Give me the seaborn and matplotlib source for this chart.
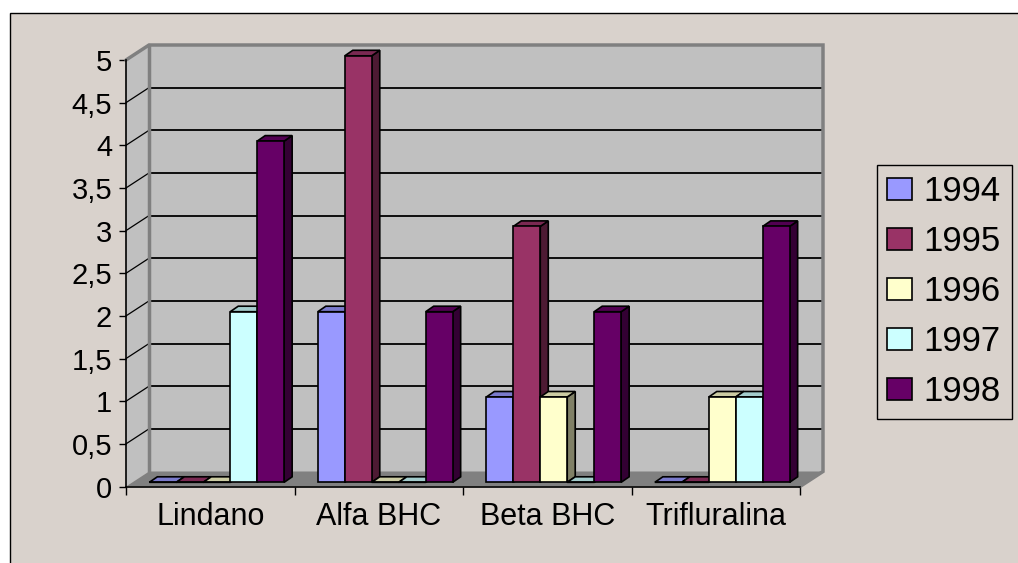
import numpy as np
import pandas as pd
import matplotlib
matplotlib.use("Agg")
import matplotlib.pyplot as plt
from matplotlib.patches import Polygon, Rectangle, Patch
from matplotlib.colors import to_rgb
import seaborn as sns

# ---------------- data ----------------
categories = ["Lindano", "Alfa BHC", "Beta BHC", "Trifluralina"]
years = ["1994", "1995", "1996", "1997", "1998"]
v1994 = [0, 2, 1, 0]
v1995 = [0, 5, 3, 0]
v1996 = [0, 0, 1, 1]
v1997 = [2, 0, 0, 1]
v1998 = [4, 2, 2, 3]
year_colors = ["#9999FF", "#993366", "#FFFFCC", "#CCFFFF", "#660066"]
yticks = [0, 0.5, 1, 1.5, 2, 2.5, 3, 3.5, 4, 4.5, 5]
ytick_labels = ["0", "0,5", "1", "1,5", "2", "2,5", "3", "3,5", "4", "4,5", "5"]

series = [v1994, v1995, v1996, v1997, v1998]
df = pd.DataFrame({
    "category": [c for s in series for c in categories],
    "year": [y for y, s in zip(years, series) for _ in s],
    "value": [v for s in series for v in s],
})

# ---------------- style ----------------
sns.set_style("white")
plt.rcParams["font.family"] = ["Liberation Sans", "DejaVu Sans"]
plt.rcParams["text.color"] = "black"
plt.rcParams["xtick.color"] = "black"
plt.rcParams["ytick.color"] = "black"
plt.rcParams["axes.labelcolor"] = "black"

BG = "#D9D2CC"
WALL = "#C0C0C0"
FLOOR = "#808080"
EDGE_GRAY = "#808080"

W, H = 1018, 563
fig = plt.figure(figsize=(W / 100, H / 100), dpi=100, facecolor="white")
fig.add_artist(Rectangle((9.5 / W, -0.05), 1.2, (H - 12.5) / H + 0.05,
                         transform=fig.transFigure, facecolor=BG,
                         edgecolor="black", linewidth=1.0, zorder=-10))

left_px, right_px, y0_px, y5_px = 126, 800, 486.5, 60
ax = fig.add_axes([left_px / W, (H - y0_px) / H,
                   (right_px - left_px) / W, (y0_px - y5_px) / H])
ax.patch.set_visible(False)

sns.barplot(data=df, x="category", y="value", hue="year", order=categories,
            hue_order=years, palette=year_colors, saturation=1, width=0.8,
            gap=0, edgecolor="black", linewidth=1.2, legend=False,
            errorbar=None, ax=ax)

ax.set_xlim(-0.5, 3.5)
ax.set_ylim(0, 5)

# pixel -> data conversion
PX_X = 4 / (right_px - left_px)
PX_Y = 5 / (y0_px - y5_px)
DX, DY = 23 * PX_X, 15 * PX_Y      # depth of the chart box
OX, OY = 6.5 * PX_X, 4.2 * PX_Y    # bar front offset within depth
BX, BY = 8 * PX_X, 5.5 * PX_Y      # bar depth

x0, x1 = -0.5, 3.5
# walls and floor
ax.add_patch(Polygon([(x0, 0), (x0, 5), (x0 + DX, 5 + DY), (x0 + DX, DY)],
                     closed=True, facecolor=WALL, edgecolor="none",
                     clip_on=False, zorder=0.5))
ax.add_patch(Polygon([(x0 + DX, DY), (x1 + DX, DY), (x1 + DX, 5 + DY), (x0 + DX, 5 + DY)],
                     closed=True, facecolor=WALL, edgecolor="none",
                     clip_on=False, zorder=0.5))
for yv in yticks[1:-1]:
    ax.plot([x0 + DX, x1 + DX], [yv + DY, yv + DY], color="black", lw=1.3,
            clip_on=False, zorder=0.6)
    ax.plot([x0, x0 + DX], [yv, yv + DY], color="black", lw=0.9,
            clip_on=False, zorder=0.6)
ax.add_patch(Polygon([(x0, 0), (x1, 0), (x1 + DX, DY), (x0 + DX, DY)],
                     closed=True, facecolor=FLOOR, edgecolor="none",
                     clip_on=False, zorder=0.7))
ax.plot([x0, x0 + DX, x1 + DX, x1 + DX, x1],
        [5, 5 + DY, 5 + DY, DY, 0], color=EDGE_GRAY, lw=2.5,
        clip_on=False, zorder=0.8, solid_joinstyle="miter")
ax.plot([x0 + DX, x0 + DX], [DY, 5 + DY], color=EDGE_GRAY, lw=2.5,
        clip_on=False, zorder=0.8)

# 3D faces for bars
bars = [p for p in ax.patches if isinstance(p, Rectangle) and p.get_width() < 0.5]
order = sorted(range(len(bars)), key=lambda i: bars[i].get_x())
for rank, i in enumerate(order):
    p = bars[i]
    x, w, h = p.get_x(), p.get_width(), p.get_height()
    c = np.array(to_rgb(p.get_facecolor()))
    z = 2 + rank * 0.01
    fx = x + OX
    p.set_x(fx)
    p.set_y(OY)
    p.set_clip_on(False)
    p.set_zorder(z + 0.003)
    side = Polygon([(fx + w, OY), (fx + w + BX, OY + BY),
                    (fx + w + BX, OY + h + BY), (fx + w, OY + h)],
                   closed=True, facecolor=c * 0.5, edgecolor="black",
                   linewidth=1.2, clip_on=False, zorder=z)
    top = Polygon([(fx, OY + h), (fx + BX, OY + h + BY),
                   (fx + w + BX, OY + h + BY), (fx + w, OY + h)],
                  closed=True, facecolor=c * 0.8, edgecolor="black",
                  linewidth=1.2, clip_on=False, zorder=z + 0.001)
    ax.add_patch(side)
    ax.add_patch(top)

# axes, ticks
for s in ["top", "right"]:
    ax.spines[s].set_visible(False)
for s in ["left", "bottom"]:
    ax.spines[s].set_color("black")
    ax.spines[s].set_linewidth(1.2)
    ax.spines[s].set_zorder(1)

ax.set_yticks(yticks, labels=ytick_labels)
ax.tick_params(axis="y", length=5, width=1, color="black", pad=5,
               labelsize=21, left=True, labelcolor="black")
ax.set_xticks(range(len(categories)), labels=categories)
ax.set_xticks([-0.5, 0.5, 1.5, 2.5, 3.5], minor=True)
ax.tick_params(axis="x", which="major", length=0, pad=11, labelsize=22,
               bottom=True, labelcolor="black")
ax.tick_params(axis="x", which="minor", length=6, width=1, color="black",
               bottom=True)
ax.set_xlabel("")
ax.set_ylabel("")
ax.grid(False)

# legend
handles = [Patch(facecolor=c, edgecolor="black", linewidth=1.2) for c in year_colors]
leg = fig.legend(handles, years, loc="upper left",
                 bbox_to_anchor=(877 / W, 1 - 165 / H),
                 bbox_transform=fig.transFigure, frameon=True, fancybox=False,
                 edgecolor="black", facecolor=BG, framealpha=1, fontsize=25,
                 labelspacing=0.49, handlelength=0.7, handleheight=0.62,
                 handletextpad=0.35, borderpad=0.3, borderaxespad=0,
                 labelcolor="black")
leg.get_frame().set_linewidth(1.0)

fig.savefig("out.png", dpi=100, facecolor="white")
